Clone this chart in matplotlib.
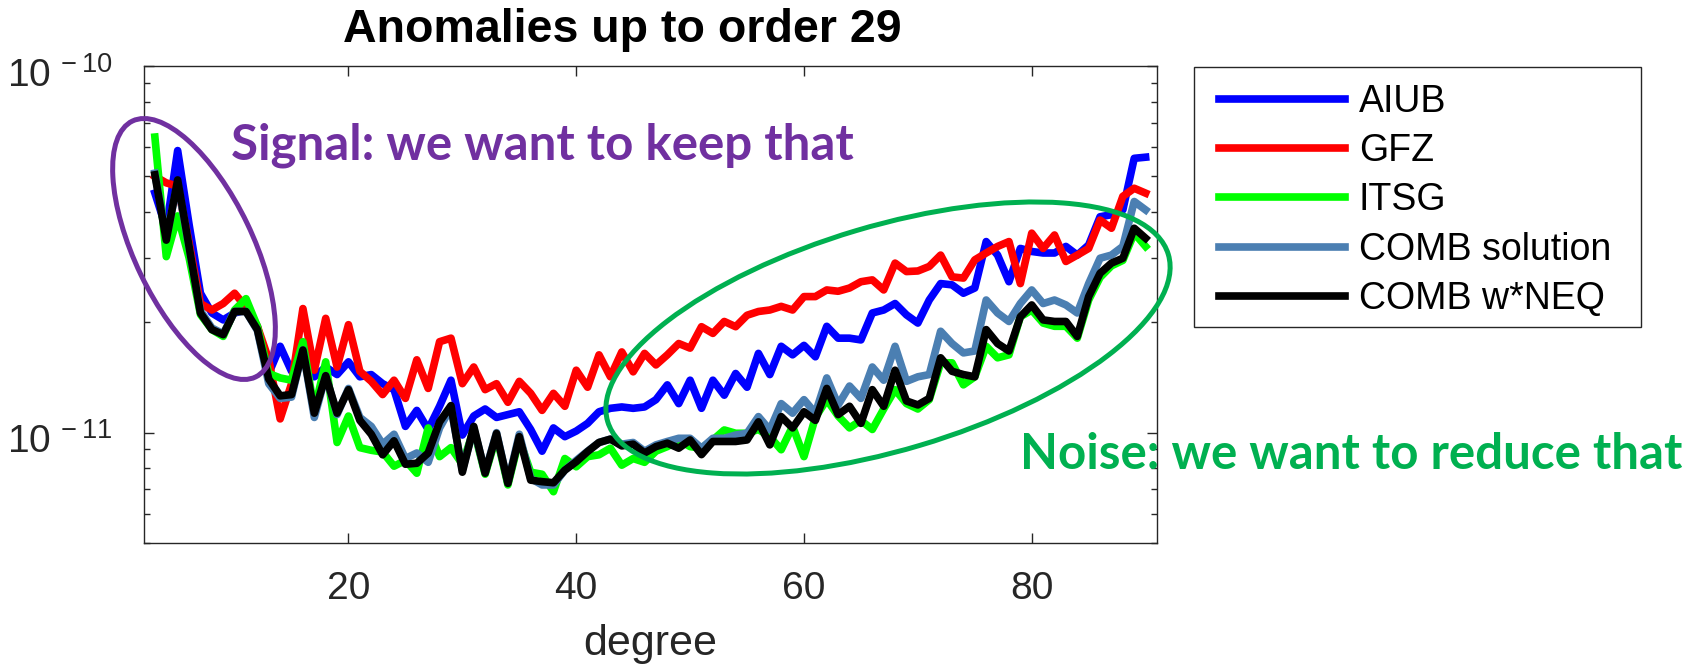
import numpy as np
import matplotlib
matplotlib.use("Agg")
import matplotlib.pyplot as plt
from matplotlib.patches import Ellipse, Rectangle
from matplotlib.transforms import ScaledTranslation
from matplotlib.ticker import FixedLocator, FixedFormatter, LogLocator, NullFormatter

plt.rcParams["font.family"] = ["Liberation Sans", "DejaVu Sans"]
plt.rcParams["mathtext.fontset"] = "custom"
plt.rcParams["mathtext.rm"] = "Liberation Sans"

# ---------------------------------------------------------------
# data, values in units of 1e-12
# ---------------------------------------------------------------
degree = np.arange(3, 91)

aiub = [45, 36, 58.8, 37, 24, 21.2, 20.3, 21.2, 21.6, 19.5,
        14.5, 17.2, 14.7, 17.5, 14.2, 15.1, 14.4, 15.6, 14.2, 14.4,
        13.6, 13.1, 10.4, 11.5, 10.2, 11.8, 13.9, 9.85, 11.1, 11.6,
        11.0, 11.2, 11.4, 10.2, 8.9, 10.3, 9.75, 10.1, 10.6, 11.4,
        11.65, 11.75, 11.65, 11.75, 12.3, 13.5, 12.0, 13.9, 11.65, 13.9,
        12.65, 14.5, 13.3, 16.45, 14.4, 17.2, 16.3, 17.3, 16.1, 19.5,
        18.1, 18.1, 17.9, 21.2, 21.6, 22.5, 20.95, 19.9, 23.0, 25.5,
        25.3, 24.0, 24.8, 33.2, 30.5, 25.8, 31.8, 31.2, 30.9, 30.9,
        32.2, 30.5, 32.5, 38.8, 39.3, 40.5, 56.0, 56.4]

gfz = [50, 48, 47, 33, 22.5, 21.6, 22.5, 24, 22, 19.5,
       15.8, 10.9, 13.6, 21.8, 14.8, 20.5, 15.1, 19.7, 14.7, 13.8,
       12.7, 13.9, 12.4, 15.8, 13.2, 17.7, 18.1, 13.6, 15.1, 13.1,
       13.6, 12.1, 13.8, 12.8, 11.5, 12.8, 11.8, 14.8, 13.3, 16.3,
       14.2, 16.6, 14.65, 16.45, 15.3, 16.3, 17.5, 17.0, 19.45, 18.65,
       20.1, 19.45, 20.9, 21.4, 21.6, 22.1, 21.6, 23.5, 23.5, 24.5,
       24.3, 24.8, 25.8, 26.1, 24.5, 29.0, 27.5, 27.6, 28.4, 30.5,
       26.6, 26.4, 29.6, 30.9, 32.2, 33.2, 25.5, 35.0, 31.8, 34.6,
       29.3, 30.5, 31.8, 38.0, 36.1, 44.1, 46.4, 45.0]

itsg = [64, 30.2, 39, 30, 21, 19.1, 18.3, 21.6, 23.2, 19.5,
        14.5, 14.1, 13.9, 17.7, 11.5, 15.6, 9.4, 11.1, 9.1, 8.95,
        8.85, 8.1, 8.4, 7.75, 10.3, 8.6, 9.1, 8.2, 10.2, 7.7,
        9.8, 7.2, 9.6, 7.8, 7.7, 6.9, 8.5, 8.07, 8.6, 8.7,
        9.07, 8.15, 8.5, 8.3, 8.9, 9.16, 9.55, 9.16, 9.07, 9.55,
        10.17, 9.96, 9.96, 10.2, 9.75, 8.98, 10.4, 8.6, 11.0, 12.3,
        11.1, 10.3, 10.8, 10.2, 11.6, 13.1, 12.0, 11.6, 12.3, 15.5,
        15.5, 13.5, 14.2, 17.2, 16.0, 16.3, 20.7, 21.6, 19.9, 19.5,
        19.5, 18.1, 23.0, 26.5, 28.5, 29.5, 35.0, 32.2]

comb = [51, 34, 48, 32, 21.5, 19.3, 18.6, 21.4, 21.4, 19.0,
        13.6, 12.4, 12.5, 16.8, 11.0, 14.3, 11.2, 13.2, 11.0, 10.4,
        9.3, 9.9, 8.5, 8.8, 8.3, 10.3, 11.7, 7.9, 10.3, 7.8,
        10.0, 7.3, 9.9, 7.5, 7.2, 7.2, 7.9, 8.4, 8.9, 9.4,
        9.6, 9.3, 9.4, 8.9, 9.26, 9.46, 9.65, 9.65, 9.07, 9.65,
        9.65, 9.85, 9.96, 11.06, 10.17, 12.0, 11.3, 12.3, 11.3, 14.1,
        11.9, 13.4, 12.4, 15.1, 13.9, 17.2, 13.8, 14.2, 14.4, 18.9,
        17.5, 16.5, 16.7, 23.0, 21.2, 20.1, 22.5, 24.5, 22.5, 23.0,
        22.3, 21.2, 25.5, 29.9, 30.5, 32.2, 42.7, 40.5]

comb_wneq = [50.5, 33.5, 48.9, 32.2, 21.2, 19.1, 18.5, 21.4, 21.4, 19.1,
             14.0, 12.6, 12.7, 16.8, 11.3, 14.3, 11.3, 13.1, 10.8, 9.9,
             8.7, 9.5, 8.2, 8.25, 8.8, 10.7, 11.85, 7.8, 10.4, 7.75,
             9.95, 7.27, 9.75, 7.42, 7.35, 7.3, 7.9, 8.33, 8.88, 9.4,
             9.6, 9.2, 9.3, 8.8, 9.16, 9.36, 9.07, 9.55, 8.71, 9.46,
             9.46, 9.46, 9.55, 10.7, 9.26, 11.06, 10.3, 11.4, 10.8, 13.2,
             11.2, 11.8, 10.6, 13.1, 11.8, 14.8, 12.2, 11.9, 12.4, 16.0,
             14.7, 14.4, 14.2, 19.1, 17.5, 16.7, 20.7, 22.3, 20.3, 20.1,
             20.1, 18.3, 23.5, 27.2, 29.0, 29.9, 36.1, 33.9]

series = [("AIUB", aiub, "#0000FF"),
          ("GFZ", gfz, "#FF0000"),
          ("ITSG", itsg, "#00FF00"),
          ("COMB solution", comb, "#4B7FB2"),
          ("COMB w*NEQ", comb_wneq, "#000000")]

x_ticks = [20, 40, 60, 80]
y_ticks = [1e-11, 1e-10]
y_ticklabels = [r"$\mathdefault{10^{\,-11}}$", r"$\mathdefault{10^{\,-10}}$"]

# ---------------------------------------------------------------
# figure
# ---------------------------------------------------------------
W, H = 1702, 669
fig = plt.figure(figsize=(W / 100, H / 100), dpi=100)
ax = fig.add_axes([143.5 / W, 1 - 543 / H, (1157 - 143.5) / W, (543 - 66) / H])

for name, vals, col in series:
    ax.plot(degree, np.array(vals) * 1e-12, color=col, lw=5.5, label=name)

ax.set_yscale("log")
ax.set_xlim(2, 91)
ax.set_ylim(5e-12, 1e-10)

ax.xaxis.set_major_locator(FixedLocator(x_ticks))
ax.yaxis.set_major_locator(FixedLocator(y_ticks))
ax.yaxis.set_major_formatter(FixedFormatter(y_ticklabels))
ax.yaxis.set_minor_locator(LogLocator(base=10, subs=np.arange(2, 10)))
ax.yaxis.set_minor_formatter(NullFormatter())

ax.tick_params(which="both", direction="in", top=True, right=True,
               colors="#262626", width=1.0, labelsize=28)
ax.tick_params(which="major", length=7)
ax.tick_params(which="minor", length=4.5)
ax.tick_params(axis="x", pad=20)
ax.tick_params(axis="y", pad=22)
for sp in ax.spines.values():
    sp.set_color("#262626")
    sp.set_linewidth(1.0)
# MATLAB puts the "10" a little lower than matplotlib does
shift = ScaledTranslation(0, -4 / 72, fig.dpi_scale_trans)
for lab in ax.get_yticklabels():
    lab.set_transform(lab.get_transform() + shift)

ax.set_xlabel("degree", fontsize=31, color="#262626")
ax.xaxis.set_label_coords(0.5, -0.17)

fig.text(622 / W, 1 - 42 / H, "Anomalies up to order 29", ha="center",
         va="baseline", fontsize=33.5, fontweight="bold")

# legend entries without frame; the box is drawn on the overlay below
leg = ax.legend(loc="upper left", bbox_to_anchor=(1219 / W, 1 - 84 / H),
                bbox_transform=fig.transFigure, borderaxespad=0,
                borderpad=0, fontsize=27, frameon=False,
                labelspacing=0.353, handlelength=3.36, handletextpad=0.37)

# ---------------------------------------------------------------
# slide annotations (pixel overlay)
# ---------------------------------------------------------------
ov = fig.add_axes([0, 0, 1, 1], zorder=5)
ov.set_xlim(0, W)
ov.set_ylim(H, 0)
ov.axis("off")

ov.add_patch(Rectangle((1194, 67), 447, 260, fill=False, ec="#262626", lw=1.0))

purple = "#7030A0"
green = "#00B050"
ov.add_patch(Ellipse((194, 249), width=118, height=284, angle=-25.7,
                     fill=False, ec=purple, lw=3.6))
ov.add_patch(Ellipse((888, 338), width=585, height=224, angle=-16.6,
                     fill=False, ec=green, lw=3.6))
ov.text(231, 159, "Signal: we want to keep that", color=purple,
        fontsize=35.5, fontweight="bold", family=["Lato", "DejaVu Sans"],
        ha="left", va="baseline")
ov.text(1020, 469, "Noise: we want to reduce that", color=green,
        fontsize=35.5, fontweight="bold", family=["Lato", "DejaVu Sans"],
        ha="left", va="baseline")

fig.savefig("out.png", dpi=100)
